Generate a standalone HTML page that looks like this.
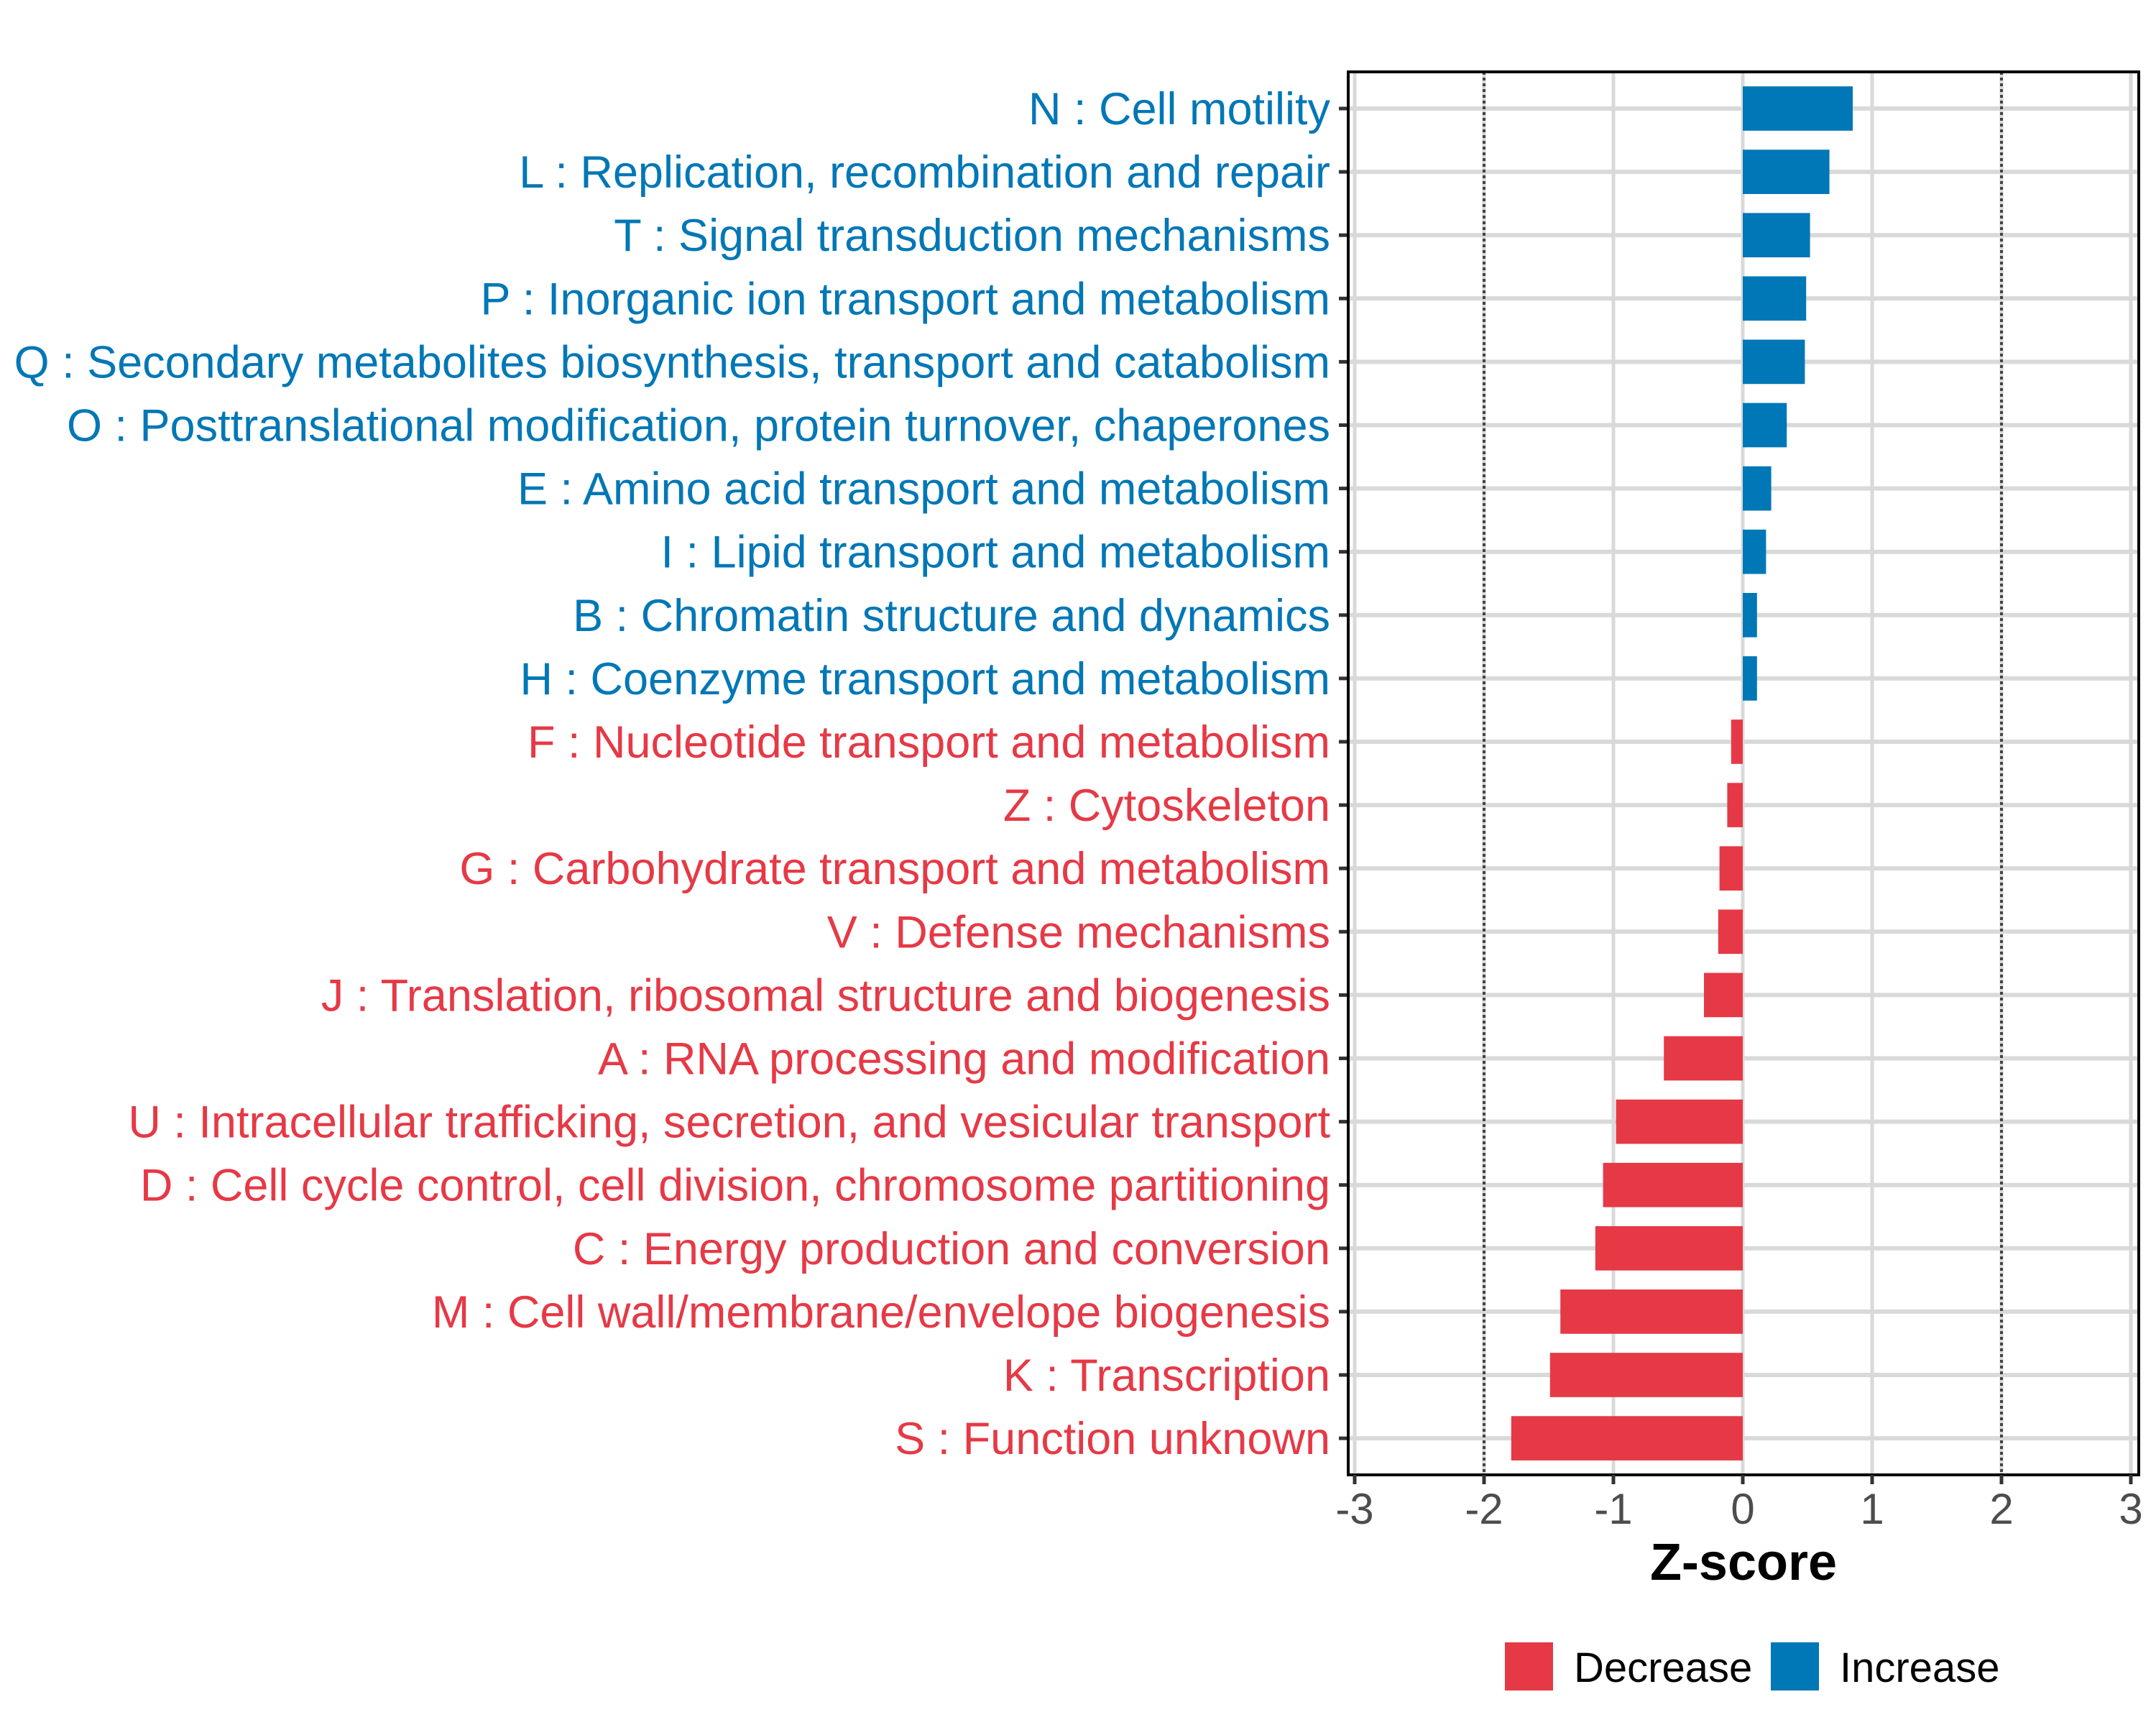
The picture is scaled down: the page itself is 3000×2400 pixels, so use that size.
<!DOCTYPE html>
<html><head><meta charset="utf-8"><style>
html,body{margin:0;padding:0;background:#fff;}
svg{display:block;font-family:"Liberation Sans",Arial,sans-serif;}
</style></head>
<body>
<svg id="chart" width="3000" height="2400" viewBox="0 0 3000 2400" xmlns="http://www.w3.org/2000/svg">
<rect x="0" y="0" width="3000" height="2400" fill="#fff"/>
<g id="grid"></g><g id="bars"></g><g id="axes"></g>
</svg>
<script>
const categories = ["N : Cell motility","L : Replication, recombination and repair","T : Signal transduction mechanisms","P : Inorganic ion transport and metabolism","Q : Secondary metabolites biosynthesis, transport and catabolism","O : Posttranslational modification, protein turnover, chaperones","E : Amino acid transport and metabolism","I : Lipid transport and metabolism","B : Chromatin structure and dynamics","H : Coenzyme transport and metabolism","F : Nucleotide transport and metabolism","Z : Cytoskeleton","G : Carbohydrate transport and metabolism","V : Defense mechanisms","J : Translation, ribosomal structure and biogenesis","A : RNA processing and modification","U : Intracellular trafficking, secretion, and vesicular transport","D : Cell cycle control, cell division, chromosome partitioning","C : Energy production and conversion","M : Cell wall/membrane/envelope biogenesis","K : Transcription","S : Function unknown"];
const zscores = [0.85,0.67,0.52,0.49,0.48,0.34,0.22,0.18,0.11,0.11,-0.09,-0.12,-0.18,-0.19,-0.30,-0.61,-0.98,-1.08,-1.14,-1.41,-1.49,-1.79];
const xTicks = [-3,-2,-1,0,1,2,3];
const xTickLabels = ["-3","-2","-1","0","1","2","3"];
const thresholds = [-2,2];

const NS="http://www.w3.org/2000/svg";
const PL=1876, PR=2976, PT=100, PB=2052;
const X0=2425, UNIT=180;
const ROW0=151, ROWSTEP=88.1;
function xs(v){return X0+v*UNIT;}
function ys(i){return ROW0+i*ROWSTEP;}
function mk(tag,attrs,parent){const e=document.createElementNS(NS,tag);for(const k in attrs)e.setAttribute(k,attrs[k]);parent.appendChild(e);return e;}
const RED="#e63946", BLUE="#0077b6";
const grid=document.getElementById('grid'), bars=document.getElementById('bars'), axes=document.getElementById('axes');

xTicks.forEach((t,i)=>{
  const l=mk('line',{x1:xs(t),x2:xs(t),y1:PT,y2:PB,stroke:'#d9d9d9','stroke-width':5},grid);
  
  
});
categories.forEach((c,i)=>{
  const l=mk('line',{x1:PL,x2:PR,y1:ys(i),y2:ys(i),stroke:'#d9d9d9','stroke-width':6},grid);
  
  
});
thresholds.forEach(t=>{
  const l=mk('line',{x1:xs(t),x2:xs(t),y1:PT,y2:PB,stroke:'#444','stroke-width':4,'stroke-dasharray':'4 4'},grid);
  
  
});
const bh=0.7*ROWSTEP;
categories.forEach((c,i)=>{
  const v=zscores[i];
  const col=v>=0?BLUE:RED;
  const r=mk('rect',{x:Math.min(xs(0),xs(v)),y:ys(i)-bh/2,width:Math.abs(xs(v)-xs(0)),height:bh,fill:col},bars);
  
  
  const t=mk('text',{x:1851,y:ys(i)+22,'text-anchor':'end','font-size':63,fill:col},axes);
  t.textContent=c;
  
  
  const tk=mk('line',{x1:1863,x2:PL,y1:ys(i),y2:ys(i),stroke:'#333','stroke-width':5},axes);
  
  
});
const border=mk('rect',{x:PL,y:PT,width:PR-PL,height:PB-PT,fill:'none',stroke:'#000','stroke-width':4},axes);


xTicks.forEach((t,i)=>{
  const tk=mk('line',{x1:xs(t),x2:xs(t),y1:PB,y2:PB+13,stroke:'#333','stroke-width':5},axes);
  
  
  const tl=mk('text',{x:xs(t),y:2120,'text-anchor':'middle','font-size':60,fill:'#4d4d4d'},axes);
  tl.textContent=xTickLabels[i];
  
  
});
const xt=mk('text',{x:2426,y:2198,'text-anchor':'middle','font-size':72,'font-weight':'bold',fill:'#000'},axes);
xt.textContent='Z-score';


const lg=mk('g',{},axes);


const k1=mk('rect',{x:2094,y:2285,width:67,height:67,fill:RED},lg);


const t1=mk('text',{x:2190,y:2340,'font-size':58,fill:'#000'},lg);
t1.textContent='Decrease';


const k2=mk('rect',{x:2464,y:2285,width:67,height:67,fill:BLUE},lg);


const t2=mk('text',{x:2560,y:2340,'font-size':58,fill:'#000'},lg);
t2.textContent='Increase';


</script>
</body></html>
